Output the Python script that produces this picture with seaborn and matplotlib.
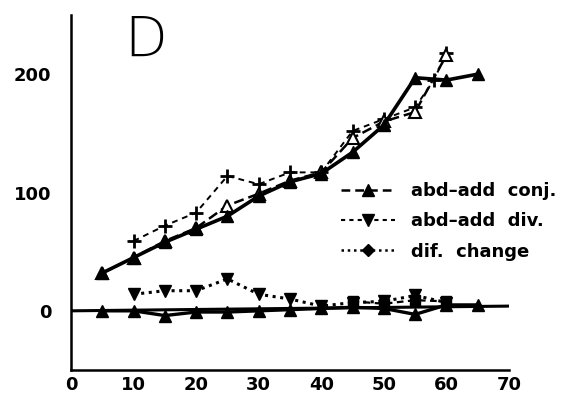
import matplotlib
matplotlib.use("Agg")
import matplotlib.pyplot as plt
import seaborn as sns
import pandas as pd
from matplotlib.lines import Line2D

# ---- data ----
x_conj = [5, 10, 15, 20, 25, 30, 35, 40, 45, 50, 55, 60, 65]
y_conj = [32, 45, 58, 69, 80, 97, 109, 116, 134, 157, 197, 195, 200]

x_open = [5, 10, 15, 20, 25, 30, 35, 40, 45, 50, 55, 60]
y_open = [32, 45, 59, 70, 89, 99, 110, 117, 146, 160, 168, 216]

x_plus = [10, 15, 20, 25, 30, 35, 40, 45, 50, 55, 58, 60]
y_plus = [59, 72, 83, 114, 107, 117, 117, 152, 162, 172, 195, 218]

x_low = [5, 10, 15, 20, 25, 30, 35, 40, 45, 50, 55, 60, 65]
y_low = [0, 0, -4, -1, -1, 0, 1, 2, 3, 2, -3, 5, 5]

x_dif = [10, 15, 20, 25, 30, 35, 40, 45, 50, 55, 60]
y_dif = [14, 17, 17, 27, 14, 10, 4, 7, 8, 13, 7]

x_sq = [45, 50, 55, 60]
y_sq = [8, 6, 9, 8]

baseline_x = [0, 70]
baseline_y = [0, 4]

legend_labels = ["abd\u2013add  conj.", "abd\u2013add  div.", "dif.  change"]
x_ticks = [0, 10, 20, 30, 40, 50, 60, 70]
y_ticks = [0, 100, 200]
panel_letter = "D"

# ---- figure ----
sns.set_style("white")
plt.rcParams["font.family"] = ["DejaVu Sans"]
plt.rcParams["text.color"] = "black"

fig = plt.figure(figsize=(5.68, 4.08), dpi=100)
ax = fig.add_axes([71 / 568, 1 - 370 / 408, (509 - 71) / 568, (370 - 15) / 408])

k = "k"
common = dict(ax=ax, color=k, markeredgecolor=k)
sns.lineplot(x=baseline_x, y=baseline_y, ax=ax, color=k, linewidth=2.2)
sns.lineplot(x=x_low, y=y_low, linewidth=2.4, marker="^", markersize=8,
             markeredgewidth=1, **common)
sns.lineplot(x=x_dif, y=y_dif, linewidth=2.2, linestyle=(0, (1, 1.5)),
             marker="v", markersize=9, markeredgewidth=1, **common)
sns.lineplot(x=x_sq, y=y_sq, linewidth=1.6, linestyle=(0, (3, 2)),
             marker="s", markersize=7, markeredgewidth=1, **common)
sns.lineplot(x=x_plus, y=y_plus, linewidth=1.4, linestyle=(0, (3, 2.5)),
             marker="+", markersize=10, markeredgewidth=2, **common)
sns.lineplot(x=x_open, y=y_open, linewidth=1.8, linestyle=(0, (4, 2)),
             marker="^", markersize=8, markerfacecolor="white",
             markeredgewidth=1.5, **common)
sns.lineplot(x=x_conj, y=y_conj, linewidth=2.6, marker="^",
             markersize=8, markeredgewidth=1, **common)

ax.set_xlim(0, 70)
ax.set_ylim(-50, 250)
ax.set_xlabel("")
ax.set_ylabel("")

for s in ["top", "right"]:
    ax.spines[s].set_visible(False)
for s in ["left", "bottom"]:
    ax.spines[s].set_linewidth(1.8)
    ax.spines[s].set_color(k)

ax.set_xticks(x_ticks)
ax.set_xticklabels([str(v) for v in x_ticks])
ax.set_xticks([5, 15, 25, 35, 45, 55, 65], minor=True)
ax.set_yticks(y_ticks)
ax.set_yticklabels([str(v) for v in y_ticks])
ax.set_yticks([50, 150], minor=True)

ax.tick_params(axis="both", which="major", direction="in", length=10, width=1.8,
               colors=k, labelsize=13)
ax.tick_params(axis="both", which="minor", direction="in", length=6, width=1.5, colors=k)
ax.tick_params(axis="x", which="major", pad=4)
ax.tick_params(axis="y", which="major", pad=14)
for lab in ax.get_xticklabels() + ax.get_yticklabels():
    lab.set_fontweight("bold")

ax.text(12, 228, panel_letter, fontsize=40, fontweight="light", ha="center",
        va="center", color=k)

handles = [
    Line2D([], [], color=k, linewidth=1.8, linestyle=(0, (3.5, 2)), marker="^", markersize=8),
    Line2D([], [], color=k, linewidth=1.5, linestyle=(0, (2, 2)), marker="v", markersize=8),
    Line2D([], [], color=k, linewidth=1.8, linestyle=(0, (1, 1.5)), marker="D", markersize=6),
]
leg = ax.legend(handles, legend_labels, loc="upper left", frameon=False,
                bbox_to_anchor=(341 / 568, 1 - 182 / 408), bbox_transform=fig.transFigure,
                fontsize=13, handlelength=3.0, handletextpad=0.9, labelspacing=0.68,
                borderpad=0, borderaxespad=0, labelcolor=k)
for t in leg.get_texts():
    t.set_fontweight("bold")

fig.savefig("out.png", dpi=100)
